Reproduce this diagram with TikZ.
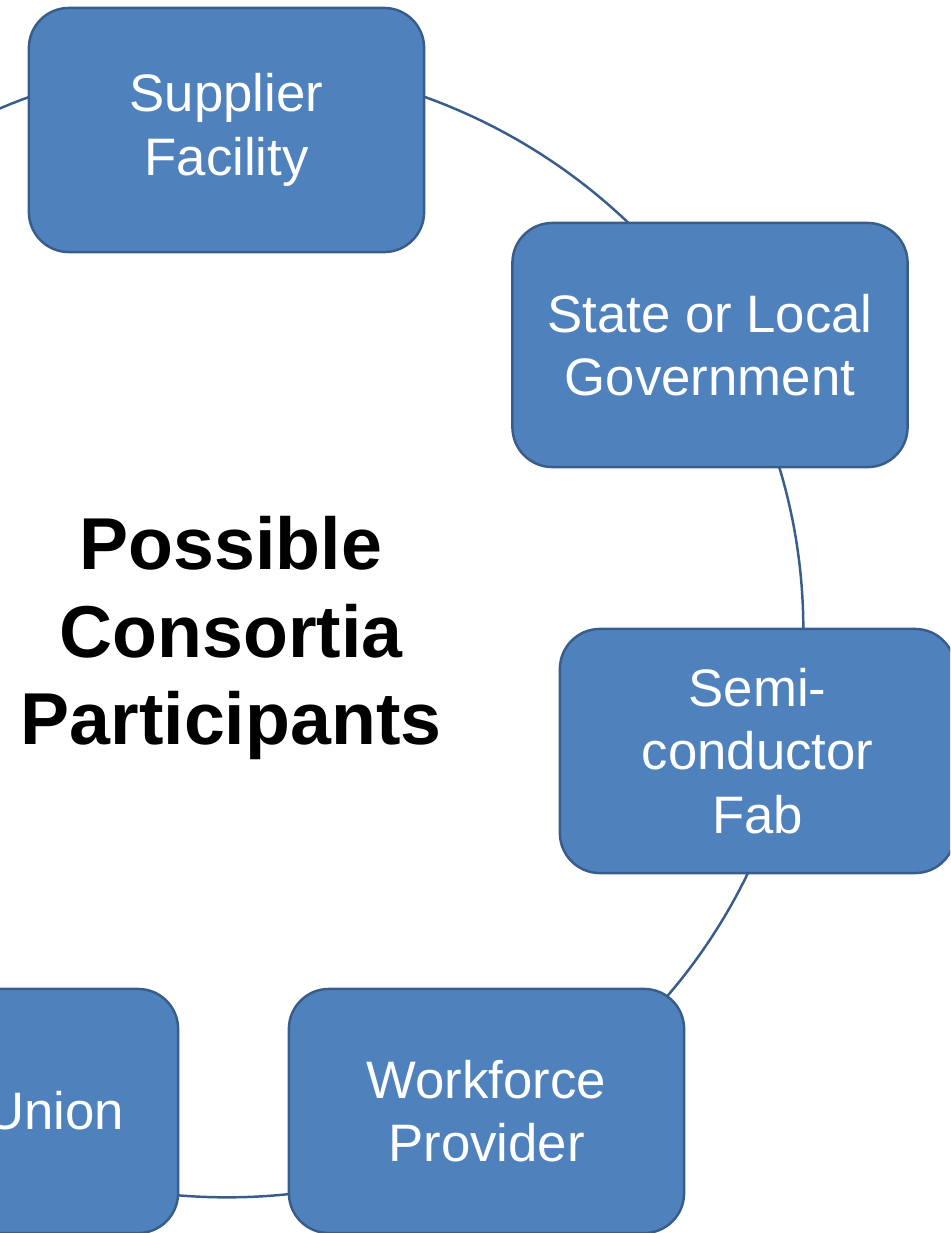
\documentclass[tikz,border=0pt]{standalone}
\usepackage{fontspec}
\setmainfont{Liberation Sans}
\definecolor{cycleBlue}{HTML}{4F81BD}
\definecolor{cycleEdge}{HTML}{385D8A}
\tikzset{
  member/.style={draw=cycleEdge, line width=0.7pt, fill=cycleBlue,
    rounded corners=0.4cm, minimum width=3.95cm, minimum height=2.44cm,
    text=white, align=center, font=\fontsize{15}{18.1}\selectfont},
  ring/.style={draw=cycleEdge, line width=0.7pt}
}

\begin{document}
\begin{tikzpicture}[x=0.01cm, y=-0.01cm]
\useasboundingbox (0,0) rectangle (950,1233);
\clip (0,0) rectangle (950,1233);
% ---------- the ring behind the members ----------
\coordinate (hub) at (227,630);
\draw[ring] (hub) ellipse [x radius=5.76cm, y radius=5.67cm];
% ---------- members around the ring ----------
\node[member] (supplier) at (226.5,130) {Supplier\\Facility};
\node[member] (stategov) at (710,345) {State or Local\\Government};
\node[member] (fab) at (757.5,751) {Semi-\\conductor\\Fab};
\node[member] (workforce) at (486.5,1111) {Workforce\\Provider};
\node[member, text width=2.87cm, inner xsep=0.54cm, align=right] (union) at (-19.5,1111) {Union};
% ---------- title in the middle ----------
\node[font=\bfseries\fontsize{20.9}{25}\selectfont, align=center] (title) at (231,638)
  {Possible\\Consortia\\Participants};
\end{tikzpicture}
\end{document}
